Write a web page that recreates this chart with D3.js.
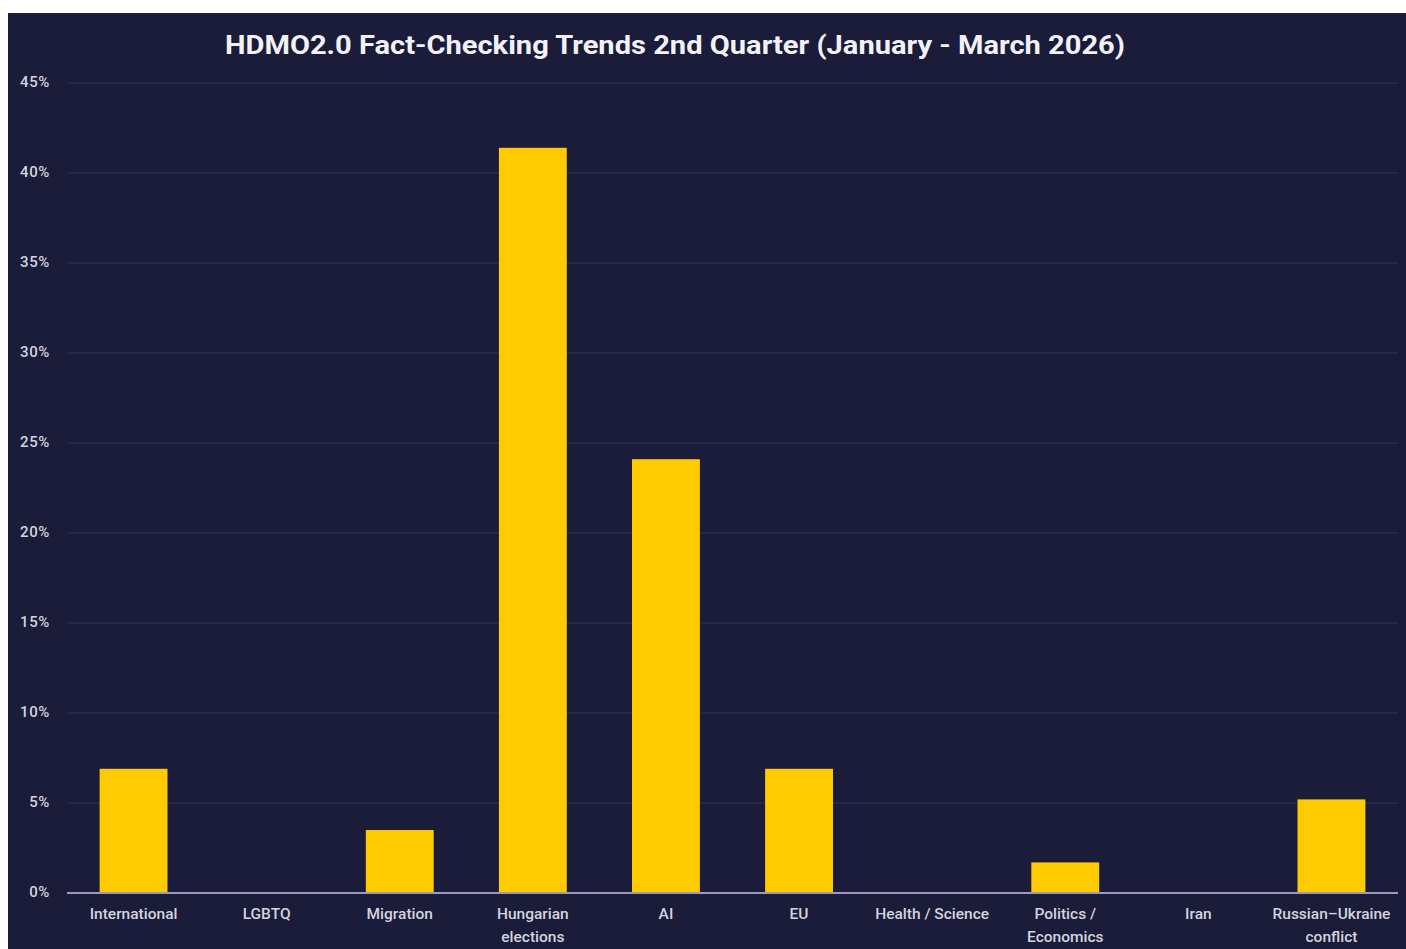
<!DOCTYPE html>
<html>
<head>
<meta charset="utf-8">
<script src="https://cdn.jsdelivr.net/npm/d3@7"></script>
<style>
  body { margin: 0; background: #fff; }
  svg text { font-family: "Roboto", "Noto Sans", sans-serif; }
</style>
</head>
<body>
<div class="chart"></div>
<script>
var categories = ["International", "LGBTQ", "Migration", "Hungarian elections", "AI", "EU",
  "Health / Science", "Politics / Economics", "Iran", "Russian\u2013Ukraine conflict"];
var labelLines = [["International"], ["LGBTQ"], ["Migration"], ["Hungarian", "elections"], ["AI"], ["EU"],
  ["Health / Science"], ["Politics /", "Economics"], ["Iran"], ["Russian\u2013Ukraine", "conflict"]];
var values = [6.9, 0, 3.5, 41.4, 24.1, 6.9, 0, 1.7, 0, 5.2];
var yTicks = [0, 5, 10, 15, 20, 25, 30, 35, 40, 45];
var title = "HDMO2.0 Fact-Checking Trends 2nd Quarter (January - March 2026)";

var svgWidth = 1406;
var svgHeight = 949;

var margin = { top: 83, right: 8, bottom: 56, left: 67 };
var width = svgWidth - margin.left - margin.right;
var height = svgHeight - margin.top - margin.bottom;

var svg = d3.select(".chart")
  .append("svg")
  .attr("width", svgWidth)
  .attr("height", svgHeight)
  .style("display", "block");

// navy panel
svg.append("rect")
  .attr("x", 8)
  .attr("y", 13)
  .attr("width", svgWidth - 8)
  .attr("height", svgHeight - 13)
  .attr("fill", "#1b1b3a");

svg.append("text")
  .attr("x", 675)
  .attr("y", 54)
  .attr("text-anchor", "middle")
  .attr("font-size", 26)
  .attr("font-weight", "bold")
  .attr("fill", "#f2f2f6")
  .attr("textLength", 900)
  .attr("lengthAdjust", "spacingAndGlyphs")
  .text(title);

var chartGroup = svg.append("g")
  .attr("transform", `translate(${margin.left}, ${margin.top})`);

var xScale = d3.scaleBand()
  .domain(categories)
  .range([0, width])
  .paddingInner(0.49)
  .paddingOuter(0.245);

var yScale = d3.scaleLinear()
  .domain([0, 45])
  .range([height, 0]);

// gridlines
chartGroup.selectAll(".grid")
  .data(yTicks.filter(d => d > 0))
  .enter()
  .append("line")
  .attr("x1", 0)
  .attr("x2", width)
  .attr("y1", d => yScale(d))
  .attr("y2", d => yScale(d))
  .attr("stroke", "#2b2b4e")
  .attr("stroke-width", 1.5);

// y axis labels
var leftAxis = d3.axisLeft(yScale)
  .tickValues(yTicks)
  .tickFormat(d => d + "%")
  .tickSize(0)
  .tickPadding(17);

var yAxisG = chartGroup.append("g").call(leftAxis);
yAxisG.select(".domain").remove();
yAxisG.selectAll("text")
  .attr("font-size", 15)
  .attr("font-weight", 500)
  .attr("letter-spacing", 0.6)
  .attr("fill", "#d4d4de")
  .attr("font-family", "Roboto, sans-serif")
  .attr("dy", "0.25em");

// bars
chartGroup.selectAll(".bar")
  .data(values)
  .enter()
  .append("rect")
  .attr("x", (d, i) => xScale(categories[i]))
  .attr("y", d => yScale(d))
  .attr("width", xScale.bandwidth())
  .attr("height", d => height - yScale(d))
  .attr("fill", "#fdcb00");

// baseline
chartGroup.append("line")
  .attr("x1", 0)
  .attr("x2", width)
  .attr("y1", height)
  .attr("y2", height)
  .attr("stroke", "#9c9cba")
  .attr("stroke-width", 2);

// x labels
var bottomAxis = d3.axisBottom(xScale).tickSize(0).tickFormat("");
var xAxisG = chartGroup.append("g")
  .attr("transform", `translate(0, ${height})`)
  .call(bottomAxis);
xAxisG.select(".domain").remove();

xAxisG.selectAll(".tick")
  .append("text")
  .attr("text-anchor", "middle")
  .attr("font-size", 15.5)
  .attr("font-weight", 500)
  .attr("fill", "#d4d4de")
  .attr("font-family", "Roboto, sans-serif")
  .each(function(d, i) {
    var lines = labelLines[i];
    var t = d3.select(this);
    lines.forEach(function(line, j) {
      t.append("tspan")
        .attr("x", 0)
        .attr("y", 26 + j * 23)
        .text(line);
    });
  });
</script>
</body>
</html>
